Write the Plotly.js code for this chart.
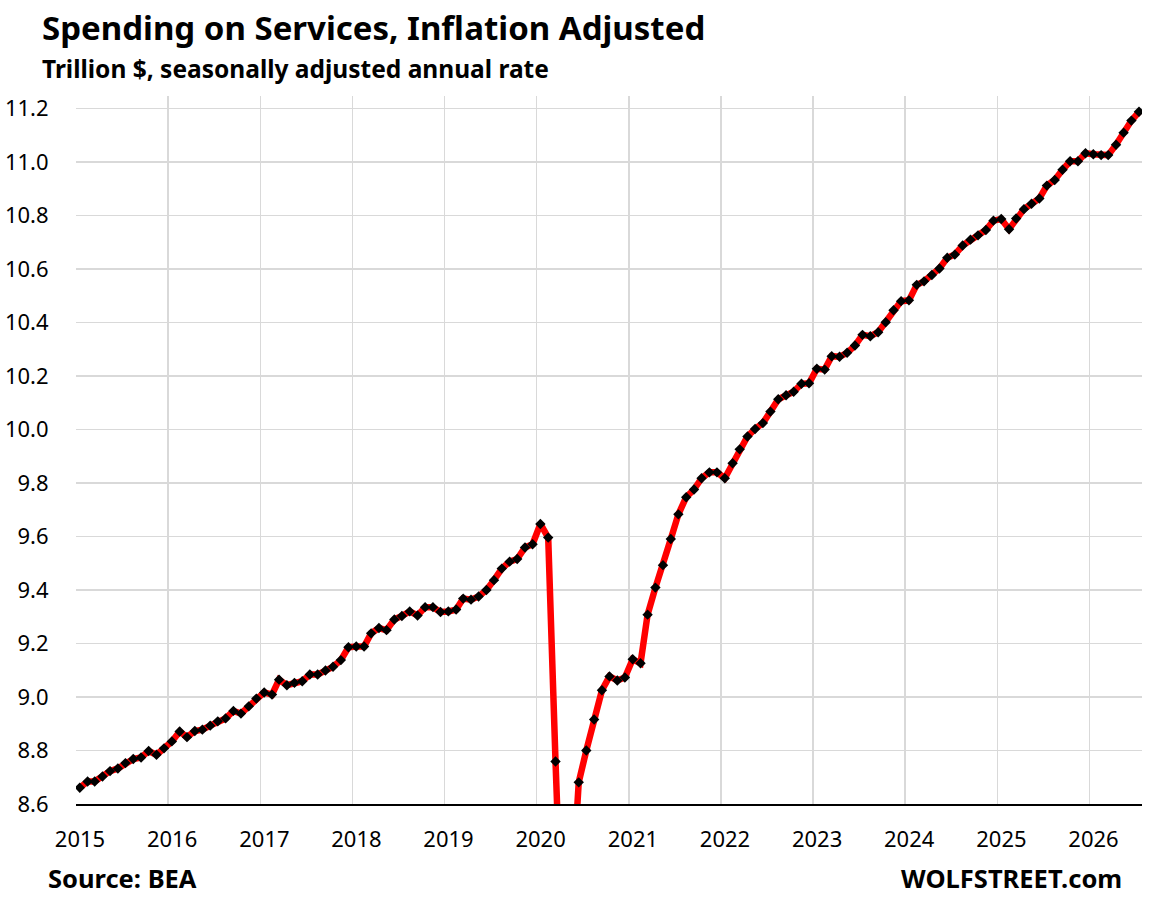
<!DOCTYPE html>
<html>
<head>
<meta charset="utf-8">
<script src="https://cdn.plot.ly/plotly-3.0.1.min.js"></script>
<style>html,body{margin:0;padding:0;background:#fff;}#chart{width:1156px;height:898px;}</style>
</head>
<body>
<div id="chart"></div>
<script>
// Monthly real spending on services, trillion $ (SAAR), starting January 2015
var startYear = 2015;
var startMonth = 1;
var services = [
  // 2015
  8.661, 8.684, 8.684, 8.703, 8.723, 8.733, 8.753, 8.768, 8.774, 8.798, 8.784, 8.808,
  // 2016
  8.834, 8.871, 8.850, 8.873, 8.878, 8.893, 8.909, 8.920, 8.948, 8.938, 8.965, 8.994,
  // 2017
  9.017, 9.009, 9.065, 9.044, 9.053, 9.059, 9.084, 9.084, 9.099, 9.113, 9.138, 9.186,
  // 2018
  9.189, 9.189, 9.238, 9.258, 9.250, 9.290, 9.303, 9.320, 9.305, 9.336, 9.336, 9.318,
  // 2019
  9.320, 9.327, 9.368, 9.364, 9.376, 9.400, 9.437, 9.480, 9.506, 9.516, 9.559, 9.571,
  // 2020
  9.647, 9.596, 8.759, 7.950, 8.200, 8.681, 8.800, 8.916, 9.025, 9.077, 9.062, 9.073,
  // 2021
  9.141, 9.126, 9.308, 9.409, 9.493, 9.591, 9.683, 9.747, 9.776, 9.818, 9.840, 9.840,
  // 2022
  9.818, 9.874, 9.926, 9.974, 10.002, 10.024, 10.067, 10.113, 10.128, 10.141, 10.171, 10.173,
  // 2023
  10.227, 10.224, 10.274, 10.272, 10.287, 10.314, 10.354, 10.349, 10.364, 10.401, 10.446, 10.480,
  // 2024
  10.483, 10.541, 10.554, 10.578, 10.602, 10.642, 10.654, 10.688, 10.710, 10.726, 10.746, 10.781,
  // 2025
  10.787, 10.749, 10.789, 10.824, 10.844, 10.864, 10.912, 10.933, 10.971, 11.003, 11.003, 11.033,
  // 2026
  11.029, 11.026, 11.026, 11.065, 11.110, 11.155, 11.188
];
var titleText = "Spending on Services, Inflation Adjusted";
var subtitleText = "Trillion $, seasonally adjusted annual rate";
var sourceText = "Source: BEA";
var brandText = "WOLFSTREET.com";

// month dates (mid-month, as the reference plots each month between year gridlines)
var months = [];
for (var i = 0; i < services.length; i++) {
  var m = startMonth - 1 + i;
  var y = startYear + Math.floor(m / 12);
  var mm = (m % 12) + 1;
  months.push(y + "-" + (mm < 10 ? "0" + mm : mm) + "-16");
}

var FONT = "Noto Sans, Open Sans, DejaVu Sans, sans-serif";

var trace = {
  x: months,
  y: services,
  type: "scatter",
  mode: "lines+markers",
  line: {color: "#ff0000", width: 6.5},
  marker: {symbol: "diamond", size: 8, color: "#000000", line: {width: 0}},
  hoverinfo: "x+y"
};

var layout = {
  width: 1156,
  height: 898,
  margin: {l: 76, r: 14, t: 96, b: 94},
  paper_bgcolor: "#ffffff",
  plot_bgcolor: "#ffffff",
  showlegend: false,
  font: {family: FONT, color: "#000000"},
  xaxis: {
    type: "date",
    range: ["2015-01-01", "2026-07-28"],
    tick0: "2015-01-01",
    dtick: "M12",
    tickformat: "%Y",
    showgrid: true,
    gridcolor: "#d9d9d9",
    gridwidth: 1.6,
    showline: true,
    linecolor: "#000000",
    linewidth: 2,
    ticks: "outside",
    ticklen: 15,
    tickcolor: "rgba(0,0,0,0)",
    ticklabelshift: 4,
    tickfont: {family: FONT, size: 22, color: "#000000"},
    zeroline: false,
    fixedrange: true
  },
  yaxis: {
    range: [8.6, 11.247],
    tick0: 8.6,
    dtick: 0.2,
    tickformat: ".1f",
    showgrid: true,
    gridcolor: "#d9d9d9",
    gridwidth: 1.6,
    showline: false,
    ticks: "outside",
    ticklen: 22,
    tickcolor: "rgba(0,0,0,0)",
    tickfont: {family: FONT, size: 22, color: "#000000"},
    zeroline: false,
    fixedrange: true
  },
  annotations: [
    {text: "<b>" + titleText + "</b>", xref: "paper", yref: "paper",
     x: -0.034, y: 1.097, xanchor: "left", yanchor: "middle", showarrow: false,
     font: {family: FONT, size: 33, color: "#000000"}},
    {text: "<b>" + subtitleText + "</b>", xref: "paper", yref: "paper",
     x: -0.034, y: 1.039, xanchor: "left", yanchor: "middle", showarrow: false,
     font: {family: FONT, size: 24.5, color: "#000000"}},
    {text: "<b>" + sourceText + "</b>", xref: "paper", yref: "paper",
     x: -0.028, y: -0.105, xanchor: "left", yanchor: "middle", showarrow: false,
     font: {family: FONT, size: 25.5, color: "#000000"}},
    {text: "<b>" + brandText + "</b>", xref: "paper", yref: "paper",
     x: 0.9835, y: -0.105, xanchor: "right", yanchor: "middle", showarrow: false,
     font: {family: FONT, size: 25.5, color: "#000000"}}
  ]
};

Plotly.newPlot("chart", [trace], layout, {displayModeBar: false, staticPlot: true});
</script>
</body>
</html>
